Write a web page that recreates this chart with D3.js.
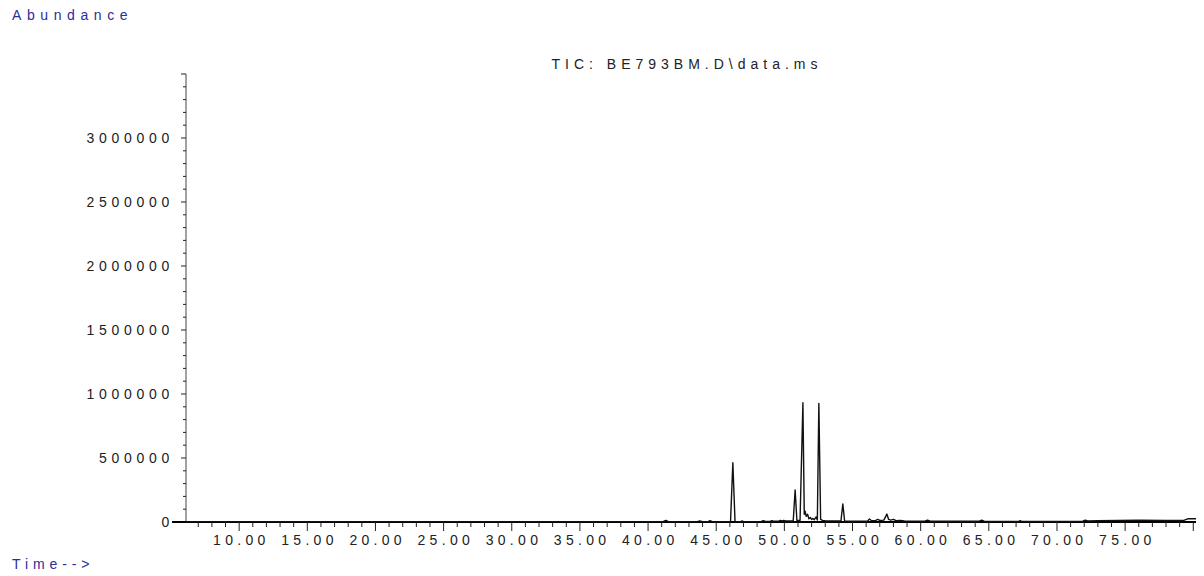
<!DOCTYPE html>
<html>
<head>
<meta charset="utf-8">
<script src="https://cdn.jsdelivr.net/npm/d3@7/dist/d3.min.js"></script>
<style>
  html, body { margin: 0; padding: 0; background: #fff; }
  svg { display: block; }
  text { font-family: "Liberation Sans", Arial, sans-serif; }
</style>
</head>
<body>
<script>
// Total ion chromatogram: retention time (min) vs. abundance
const title = "TIC: BE793BM.D\\data.ms";
const yTitle = "Abundance";
const xTitle = "Time-->";

const times = [
  6.1, 41.1, 41.3, 41.5, 43.6, 43.8, 44.0, 44.4, 44.55, 44.7,
  46.05, 46.22, 46.38, 46.8, 46.9, 47.0, 48.3, 48.47, 48.6, 48.95,
  49.08, 49.2, 49.6, 49.7, 49.85, 49.95, 50.1, 50.65, 50.79, 50.92,
  51.15, 51.36, 51.46, 51.52, 51.6, 51.7, 51.8, 51.9, 52.0, 52.1,
  52.2, 52.33, 52.42, 52.53, 52.66, 52.8, 53.0, 53.3, 54.15, 54.29,
  54.42, 55.0, 56.1, 56.24, 56.4, 56.7, 56.85, 57.0, 57.3, 57.52,
  57.65, 57.8, 58.0, 58.2, 58.5, 58.8, 60.3, 60.5, 60.7, 64.3,
  64.49, 64.65, 67.2, 67.3, 67.4, 71.9, 72.07, 72.25, 73.0, 74.5,
  76.0, 78.0, 79.3, 79.6, 80.2
];
const abundance = [
  3000, 3000, 13000, 3000, 3000, 9000, 3000, 3000, 11000, 3000,
  3000, 463000, 3000, 3000, 8000, 3000, 4000, 10000, 5000, 5000,
  10000, 6000, 6000, 12000, 8000, 12000, 8000, 9000, 250000, 12000,
  12000, 932000, 60000, 85000, 45000, 60000, 25000, 35000, 20000, 28000,
  18000, 40000, 15000, 927000, 20000, 12000, 10000, 8000, 8000, 141000,
  8000, 6000, 6000, 23000, 10000, 12000, 20000, 12000, 15000, 62000,
  20000, 15000, 20000, 10000, 12000, 8000, 6000, 15000, 6000, 6000,
  15000, 6000, 5000, 10000, 5000, 6000, 15000, 8000, 10000, 12000,
  14000, 12000, 12000, 25000, 25000
];

const yTickValues = [0, 500000, 1000000, 1500000, 2000000, 2500000, 3000000];
const xTickValues = [10, 15, 20, 25, 30, 35, 40, 45, 50, 55, 60, 65, 70, 75];
const xTickLabels = ["10.00", "15.00", "20.00", "25.00", "30.00", "35.00", "40.00",
                     "45.00", "50.00", "55.00", "60.00", "65.00", "70.00", "75.00"];

const W = 1204, H = 576;
const plotLeft = 186, plotRight = 1196, plotTop = 74, plotBottom = 522;
const blue = "#2c2c9c";
const fontSize = 14;

const svg = d3.select("body").append("svg")
  .attr("width", W).attr("height", H);

const x = d3.scaleLinear().domain([6.1, 80.2]).range([plotLeft, plotRight]);
const y = d3.scaleLinear().domain([0, 3500000]).range([plotBottom, plotTop]);

// y axis: minor ticks every 100000, labelled majors every 500000
const yAxisG = svg.append("g").attr("transform", `translate(${plotLeft},0)`);
yAxisG.append("line")
  .attr("x1", 0).attr("x2", 0).attr("y1", y(3500000)).attr("y2", y(0))
  .attr("stroke", "#444").attr("stroke-width", 1);
const yMinor = d3.range(0, 3500001, 100000);
yAxisG.selectAll("line.minor").data(yMinor).join("line")
  .attr("class", "minor")
  .attr("x1", d => (d % 500000 === 0 ? -5 : -3)).attr("x2", 0)
  .attr("y1", d => y(d)).attr("y2", d => y(d))
  .attr("stroke", "#222").attr("stroke-width", 1);
yAxisG.selectAll("text").data(yTickValues).join("text")
  .attr("x", -12).attr("y", d => y(d)).attr("dy", "0.36em")
  .attr("text-anchor", "end")
  .attr("font-size", fontSize).attr("letter-spacing", 4.7)
  .attr("fill", "#222")
  .text(d => String(d));

// x axis: minor ticks every minute, labelled majors every 5 minutes
const xAxisG = svg.append("g").attr("transform", `translate(0,${plotBottom})`);
xAxisG.append("line")
  .attr("x1", plotLeft - 14).attr("x2", plotRight).attr("y1", 0).attr("y2", 0)
  .attr("stroke", "#000").attr("stroke-width", 2);
const xMinor = d3.range(7, 81, 1);
xAxisG.selectAll("line.tick").data(xMinor).join("line")
  .attr("class", "tick")
  .attr("x1", d => x(d)).attr("x2", d => x(d))
  .attr("y1", 0).attr("y2", d => (d % 5 === 0 ? 9 : 5))
  .attr("stroke", "#222").attr("stroke-width", 1);
xAxisG.selectAll("text").data(xTickValues).join("text")
  .attr("x", d => x(d) + 2.2).attr("y", 22.5)
  .attr("text-anchor", "middle")
  .attr("font-size", fontSize).attr("letter-spacing", 4.3)
  .attr("fill", "#222")
  .text((d, i) => xTickLabels[i]);

// chromatogram trace
const line = d3.line()
  .x((d, i) => x(times[i]))
  .y(d => y(d));
svg.append("path")
  .datum(abundance)
  .attr("d", line)
  .attr("fill", "none")
  .attr("stroke", "#111")
  .attr("stroke-width", 1.4)
  .attr("stroke-linejoin", "round");

// titles
svg.append("text")
  .attr("x", 687).attr("y", 69)
  .attr("text-anchor", "middle")
  .attr("font-size", fontSize).attr("letter-spacing", 5)
  .attr("fill", "#222")
  .text(title);
svg.append("text")
  .attr("x", 12).attr("y", 20)
  .attr("font-size", fontSize).attr("letter-spacing", 5.6)
  .attr("fill", blue)
  .text(yTitle);
svg.append("text")
  .attr("x", 12).attr("y", 569)
  .attr("font-size", fontSize).attr("letter-spacing", 4.9)
  .attr("fill", blue)
  .text(xTitle);
</script>
</body>
</html>
